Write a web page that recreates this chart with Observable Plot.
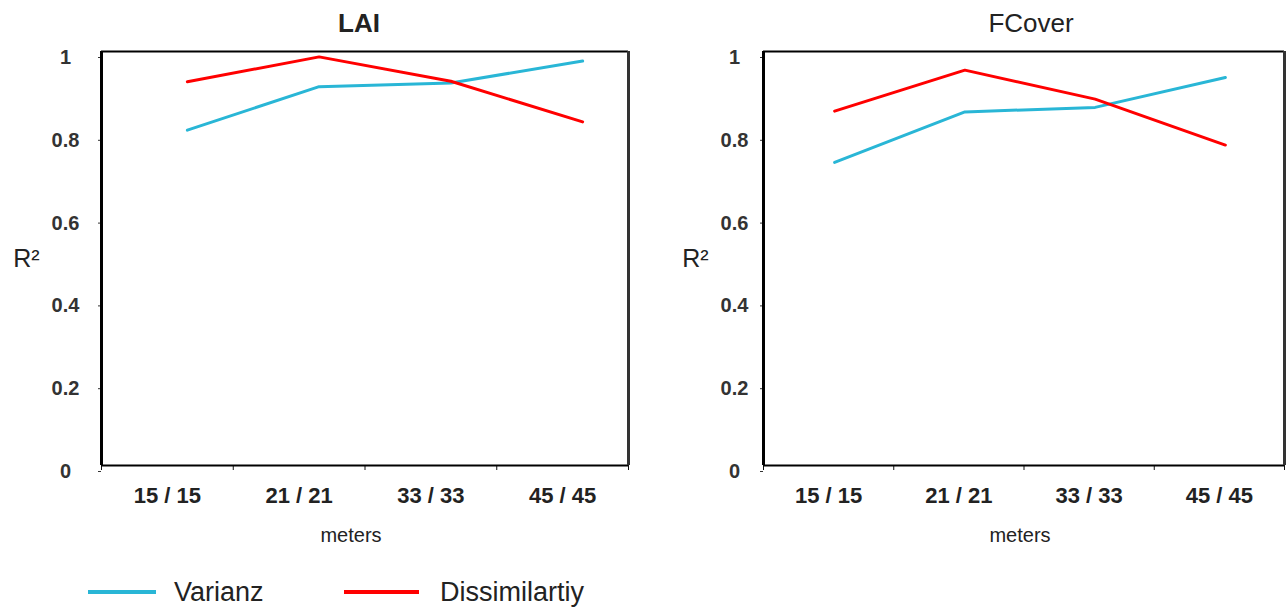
<!DOCTYPE html>
<html><head><meta charset="utf-8">
<script src="https://cdn.jsdelivr.net/npm/d3@7"></script>
<script src="https://cdn.jsdelivr.net/npm/@observablehq/plot@0.6"></script>
<style>
body{margin:0;background:#fff;font-family:"Liberation Sans",Arial,sans-serif;color:#222}
#wrap{position:relative;width:1287px;height:610px;overflow:hidden;background:#fff}
.panel{position:absolute;top:0}
.sw{position:absolute;height:4px}
.lt{position:absolute;font-size:27px;line-height:27px;white-space:nowrap;color:#222}
</style></head><body>
<div id="wrap">
  <div id="p1" class="panel" style="left:0;width:640px"></div>
  <div id="p2" class="panel" style="left:640px;width:647px"></div>
  <div id="legend"></div>
</div>
<script>
const categories = ["15 / 15", "21 / 21", "33 / 33", "45 / 45"];
const seriesNames = ["Varianz", "Dissimilartiy"];
const colors = ["#29b6d6", "#ff0000"];
const yTicks = [0, 0.2, 0.4, 0.6, 0.8, 1];
const xBoundaries = [0, 1, 2, 3, 4];

const laiVarianz = [0.81, 0.915, 0.924, 0.977];
const laiDissim  = [0.927, 0.987, 0.928, 0.830];
const fcVarianz  = [0.732, 0.854, 0.865, 0.937];
const fcDissim   = [0.856, 0.955, 0.885, 0.774];

const FONT = '"Liberation Sans", Arial, sans-serif';

function panel(o) {
  const rows = [];
  [o.varianz, o.dissim].forEach((vals, k) =>
    vals.forEach((v, i) => rows.push({series: seriesNames[k], pos: i + 0.5, value: v})));
  return Plot.plot({
    width: o.width, height: 575,
    marginLeft: o.marginLeft, marginRight: o.marginRight, marginTop: 51, marginBottom: 110,
    style: {fontFamily: FONT, background: "white", color: "#222"},
    x: {domain: [0, 4]},
    y: {domain: [0, 1]},
    color: {domain: seriesNames, range: colors},
    marks: [
      Plot.axisY({ticks: yTicks, tickFormat: d => String(d), tickSize: 3, tickPadding: o.labelPad,
        textAnchor: "middle", dy: 6, fontSize: 20, fontWeight: "bold", color: "#333", label: null}),
      Plot.axisX({ticks: xBoundaries, tickFormat: () => "", tickSize: 5, color: "#111", label: null}),
      Plot.axisX({ticks: categories.map((c, i) => i + 0.5), tickFormat: d => categories[Math.floor(d)],
        tickSize: 0, tickPadding: 22, fontSize: 22, fontWeight: "bold", color: "#222", label: null}),
      Plot.ruleY([0, 1], {stroke: "black", strokeWidth: 2}),
      Plot.ruleX([0], {stroke: "black", strokeWidth: 3}),
      Plot.ruleX([4], {stroke: "#333", strokeWidth: 3}),
      Plot.line(rows, {x: "pos", y: "value", z: "series", stroke: "series", strokeWidth: 3, dx: o.pointDx}),
      Plot.text([o.title], {frameAnchor: "top", lineAnchor: "middle", dy: -28, dx: o.titleDx, fontSize: o.titleSize, fontWeight: o.titleWeight, fill: "#222"}),
      Plot.text(["R²"], {frameAnchor: "left", textAnchor: "middle", dx: o.r2dx, fontSize: 25, fill: "#222"}),
      Plot.text(["meters"], {frameAnchor: "bottom", lineAnchor: "middle", dy: 70, dx: o.metersDx, fontSize: 20, fill: "#222"})
    ]
  });
}

document.getElementById("p1").append(panel({
  title: "LAI", titleWeight: "bold", titleSize: 26, titleDx: -6,
  varianz: laiVarianz, dissim: laiDissim,
  width: 640, marginLeft: 101, marginRight: 12, labelPad: 33, pointDx: 20, r2dx: -75, metersDx: -14
}));
document.getElementById("p2").append(panel({
  title: "FCover", titleWeight: "normal", titleSize: 26, titleDx: 7,
  varianz: fcVarianz, dissim: fcDissim,
  width: 647, marginLeft: 123, marginRight: 3, labelPad: 26, pointDx: 6, r2dx: -68, metersDx: -4
}));

// legend
const legend = document.getElementById("legend");
const legendPos = [{sw: 88, swW: 68, tx: 174}, {sw: 344, swW: 75, tx: 440}];
seriesNames.forEach((s, i) => {
  const sw = document.createElement("div");
  sw.className = "sw";
  sw.style.cssText = `left:${legendPos[i].sw}px;top:590px;width:${legendPos[i].swW}px;background:${colors[i]}`;
  const t = document.createElement("div");
  t.className = "lt";
  t.style.cssText = `left:${legendPos[i].tx}px;top:579px`;
  t.textContent = s;
  legend.append(sw, t);
});
</script>
</body></html>
